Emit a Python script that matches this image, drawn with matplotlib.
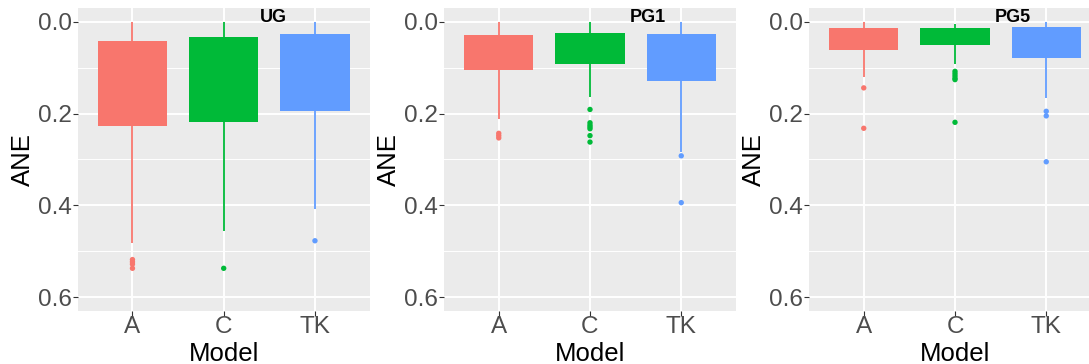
import matplotlib
matplotlib.use("Agg")
import matplotlib.pyplot as plt

plt.rcParams['font.family'] = ['Liberation Sans', 'DejaVu Sans']

# ---------------- data ----------------
models = ["A", "C", "TK"]
panel_titles = ["UG", "PG1", "PG5"]
colors = ["#F8766D", "#00BA38", "#619CFF"]

# UG
ug_whislo = [0.0, 0.0, 0.0]
ug_q1 = [0.042, 0.034, 0.027]
ug_q3 = [0.228, 0.219, 0.194]
ug_whishi = [0.482, 0.456, 0.408]
ug_fliers = [[0.518, 0.523, 0.528, 0.537], [0.537], [0.477]]

# PG1
pg1_whislo = [0.0, 0.0, 0.0]
pg1_q1 = [0.028, 0.025, 0.027]
pg1_q3 = [0.106, 0.092, 0.130]
pg1_whishi = [0.212, 0.163, 0.283]
pg1_fliers = [[0.243, 0.248, 0.253],
              [0.191, 0.220, 0.225, 0.229, 0.233, 0.248, 0.262],
              [0.292, 0.394]]

# PG5
pg5_whislo = [0.0, 0.004, 0.0]
pg5_q1 = [0.014, 0.014, 0.012]
pg5_q3 = [0.061, 0.051, 0.078]
pg5_whishi = [0.121, 0.093, 0.165]
pg5_fliers = [[0.144, 0.232],
              [0.108, 0.113, 0.118, 0.123, 0.126, 0.219],
              [0.195, 0.205, 0.305]]

yticks = [0.0, 0.2, 0.4, 0.6]
ytick_labels = ["0.0", "0.2", "0.4", "0.6"]
yminor = [0.1, 0.3, 0.5]

panels = [
    (ug_whislo, ug_q1, ug_q3, ug_whishi, ug_fliers),
    (pg1_whislo, pg1_q1, pg1_q3, pg1_whishi, pg1_fliers),
    (pg5_whislo, pg5_q1, pg5_q3, pg5_whishi, pg5_fliers),
]

# ---------------- layout ----------------
W, H = 1089, 364
fig = plt.figure(figsize=(W / 100, H / 100), dpi=100)
fig.patch.set_facecolor("white")

lefts = [77.7, 444.0, 809.0]
pw = 292.0
top_px, bot_px = 8.0, 311.0
title_x = [273.0, 647.5, 1013.0]
title_y = 17.5

for i, (wlo, q1, q3, whi, fl) in enumerate(panels):
    ax = fig.add_axes([lefts[i] / W, (H - bot_px) / H, pw / W, (bot_px - top_px) / H])
    ax.set_facecolor("#EBEBEB")
    for s in ax.spines.values():
        s.set_visible(False)
    xs = [1, 2, 3]
    ax.set_xlim(0.4, 3.6)
    ax.set_ylim(0.63, -0.03)

    # grid
    ax.set_yticks(yticks)
    ax.set_yticklabels(ytick_labels)
    ax.set_yticks(yminor, minor=True)
    ax.set_xticks(xs)
    ax.set_xticklabels(models)
    ax.grid(True, which="major", color="white", linewidth=1.4, zorder=0)
    ax.grid(True, which="minor", axis="y", color="white", linewidth=0.7, zorder=0)
    ax.set_axisbelow(True)

    # whiskers
    ax.vlines(xs, wlo, whi, colors=colors, linewidth=1.3, zorder=2)
    # boxes
    heights = [b - a for a, b in zip(q1, q3)]
    ax.bar(xs, heights, bottom=q1, width=0.76, color=colors,
           edgecolor="none", zorder=3)
    # outliers
    for x, c, pts in zip(xs, colors, fl):
        ax.scatter([x] * len(pts), pts, s=15, color=c, edgecolors="none", zorder=4)

    ax.tick_params(axis="both", which="major", length=3.4, width=0.8,
                   color="#333333", labelcolor="#4D4D4D", labelsize=17.5, pad=1)
    ax.tick_params(axis="y", which="minor", length=0)
    ax.tick_params(axis="x", pad=0)

    ax.set_ylabel("ANE", fontsize=18.5, color="black")
    ax.yaxis.set_label_coords(-55.0 / pw, 0.5)
    ax.yaxis.label.set_verticalalignment("center")
    ax.set_xlabel("Model", fontsize=18.5, color="black")
    ax.xaxis.set_label_coords(0.5, (bot_px - 361.0) / (bot_px - top_px))
    ax.xaxis.label.set_verticalalignment("baseline")

    fig.text(title_x[i] / W, 1 - title_y / H, panel_titles[i], fontsize=13,
             fontweight="bold", color="black", ha="center", va="center")

fig.savefig("out.png", dpi=100)
